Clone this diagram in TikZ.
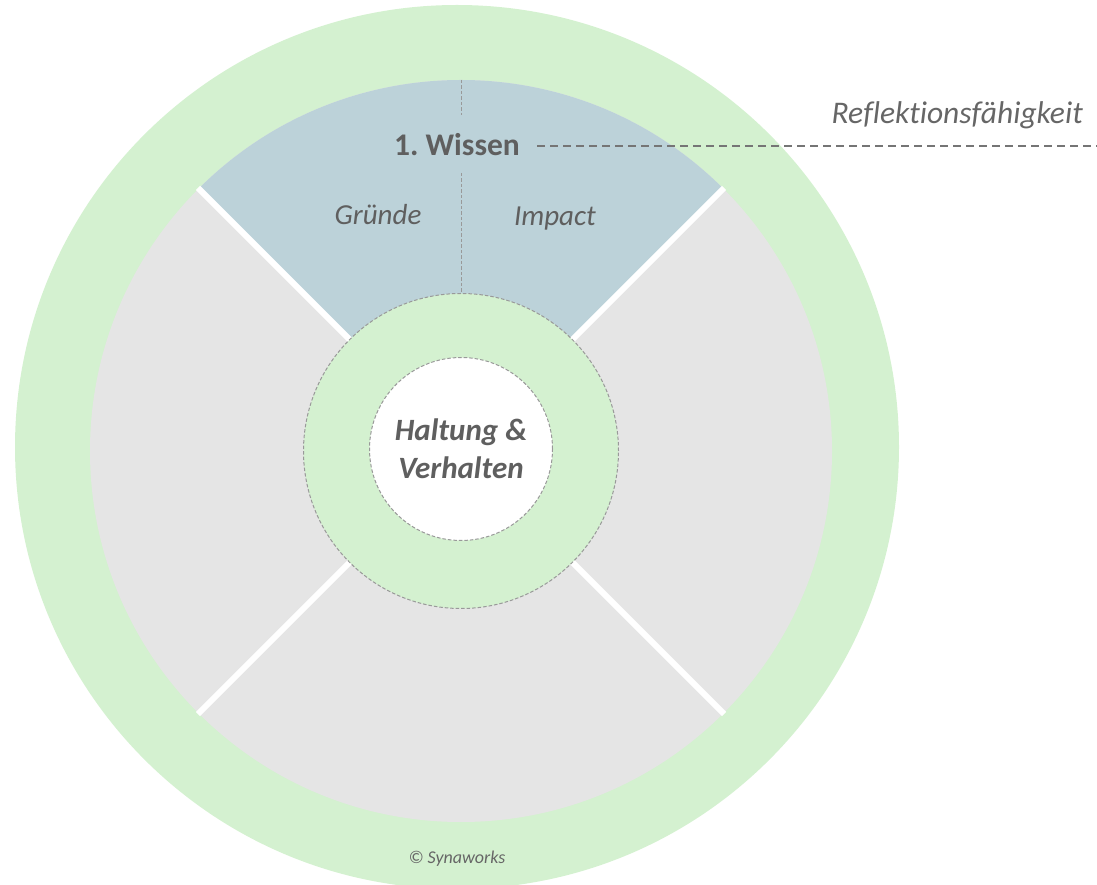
\documentclass[tikz,border=0pt]{standalone}
\usepackage{fontspec}
\setmainfont{Carlito}[Ligatures=NoCommon]
\usetikzlibrary{calc}
\definecolor{ringgreen}{HTML}{D4F1D0}
\definecolor{wedgeblue}{HTML}{BCD2D9}
\definecolor{sectorgray}{HTML}{E5E5E5}
\definecolor{txtgray}{HTML}{5F5F5F}
\definecolor{lightgray}{HTML}{666666}
\definecolor{dashgray}{HTML}{999999}
\tikzset{
  finedash/.style={draw=dashgray, line width=1pt, dash pattern=on 3.5pt off 2pt},
  gapline/.style={draw=white, line width=6pt},
  lbl/.style={text=txtgray, inner sep=0pt, font=\fontsize{29}{34}\selectfont\itshape},
}
\begin{document}
\frenchspacing
\begin{tikzpicture}[x=1pt,y=1pt]
\useasboundingbox (0,0) rectangle (1097,884);
\coordinate (C) at (461,433);
\coordinate (O) at (457,437);
% outer green ring
\fill[ringgreen] (O) circle (442pt);
% gray disc
\fill[sectorgray] (C) circle (371pt);
% blue wedge
\fill[wedgeblue] (C) -- ($(C)+(45:371pt)$) arc[start angle=45, end angle=135, radius=371pt] -- cycle;
% white gaps
\foreach \a in {45,135,225,315}{
  \draw[gapline] ($(C)+(\a:150pt)$) -- ($(C)+(\a:372pt)$);
}
% middle ring and centre
\node[circle, minimum size=315pt, fill=ringgreen, finedash, inner sep=0pt] (ring) at (C) {};
\node[circle, minimum size=183pt, fill=white, finedash, inner sep=0pt, align=center,
      text=txtgray, font=\fontsize{31}{38}\selectfont\bfseries\itshape] (core) at ($(C)+(0,2)$) {Haltung \&\\Verhalten};
% dashed vertical divider
\coordinate (dtop) at (461,804);
\coordinate (dmid1) at (461,769);
\coordinate (dmid2) at (461,711);
\draw[finedash] (dtop) -- (dmid1);
\draw[finedash] (dmid2) -- (ring.north);
% labels
\node[text=txtgray, inner sep=0pt, anchor=base, font=\fontsize{31.5}{36}\selectfont\bfseries] (wissen) at (457,728) {1. Wissen};
\node[lbl, anchor=base] (gruende) at (378,659) {Gründe};
\node[lbl, anchor=base] (impact) at (555,658) {Impact};
\node[lbl, text=lightgray, anchor=base east, font=\fontsize{31.5}{36}\selectfont\itshape] (refl) at (1083,760) {Reflektionsfähigkeit};
\coordinate (dashstart) at (537,738);
\coordinate (dashend) at (1097,738);
\draw[draw=lightgray!90, line width=2pt, dash pattern=on 8pt off 5pt] (dashstart) -- (dashend);
\node[text=lightgray, inner sep=0pt, anchor=base, font=\fontsize{18}{21}\selectfont\itshape] (copy) at (457,21) {© Synaworks};
\end{tikzpicture}
\end{document}
